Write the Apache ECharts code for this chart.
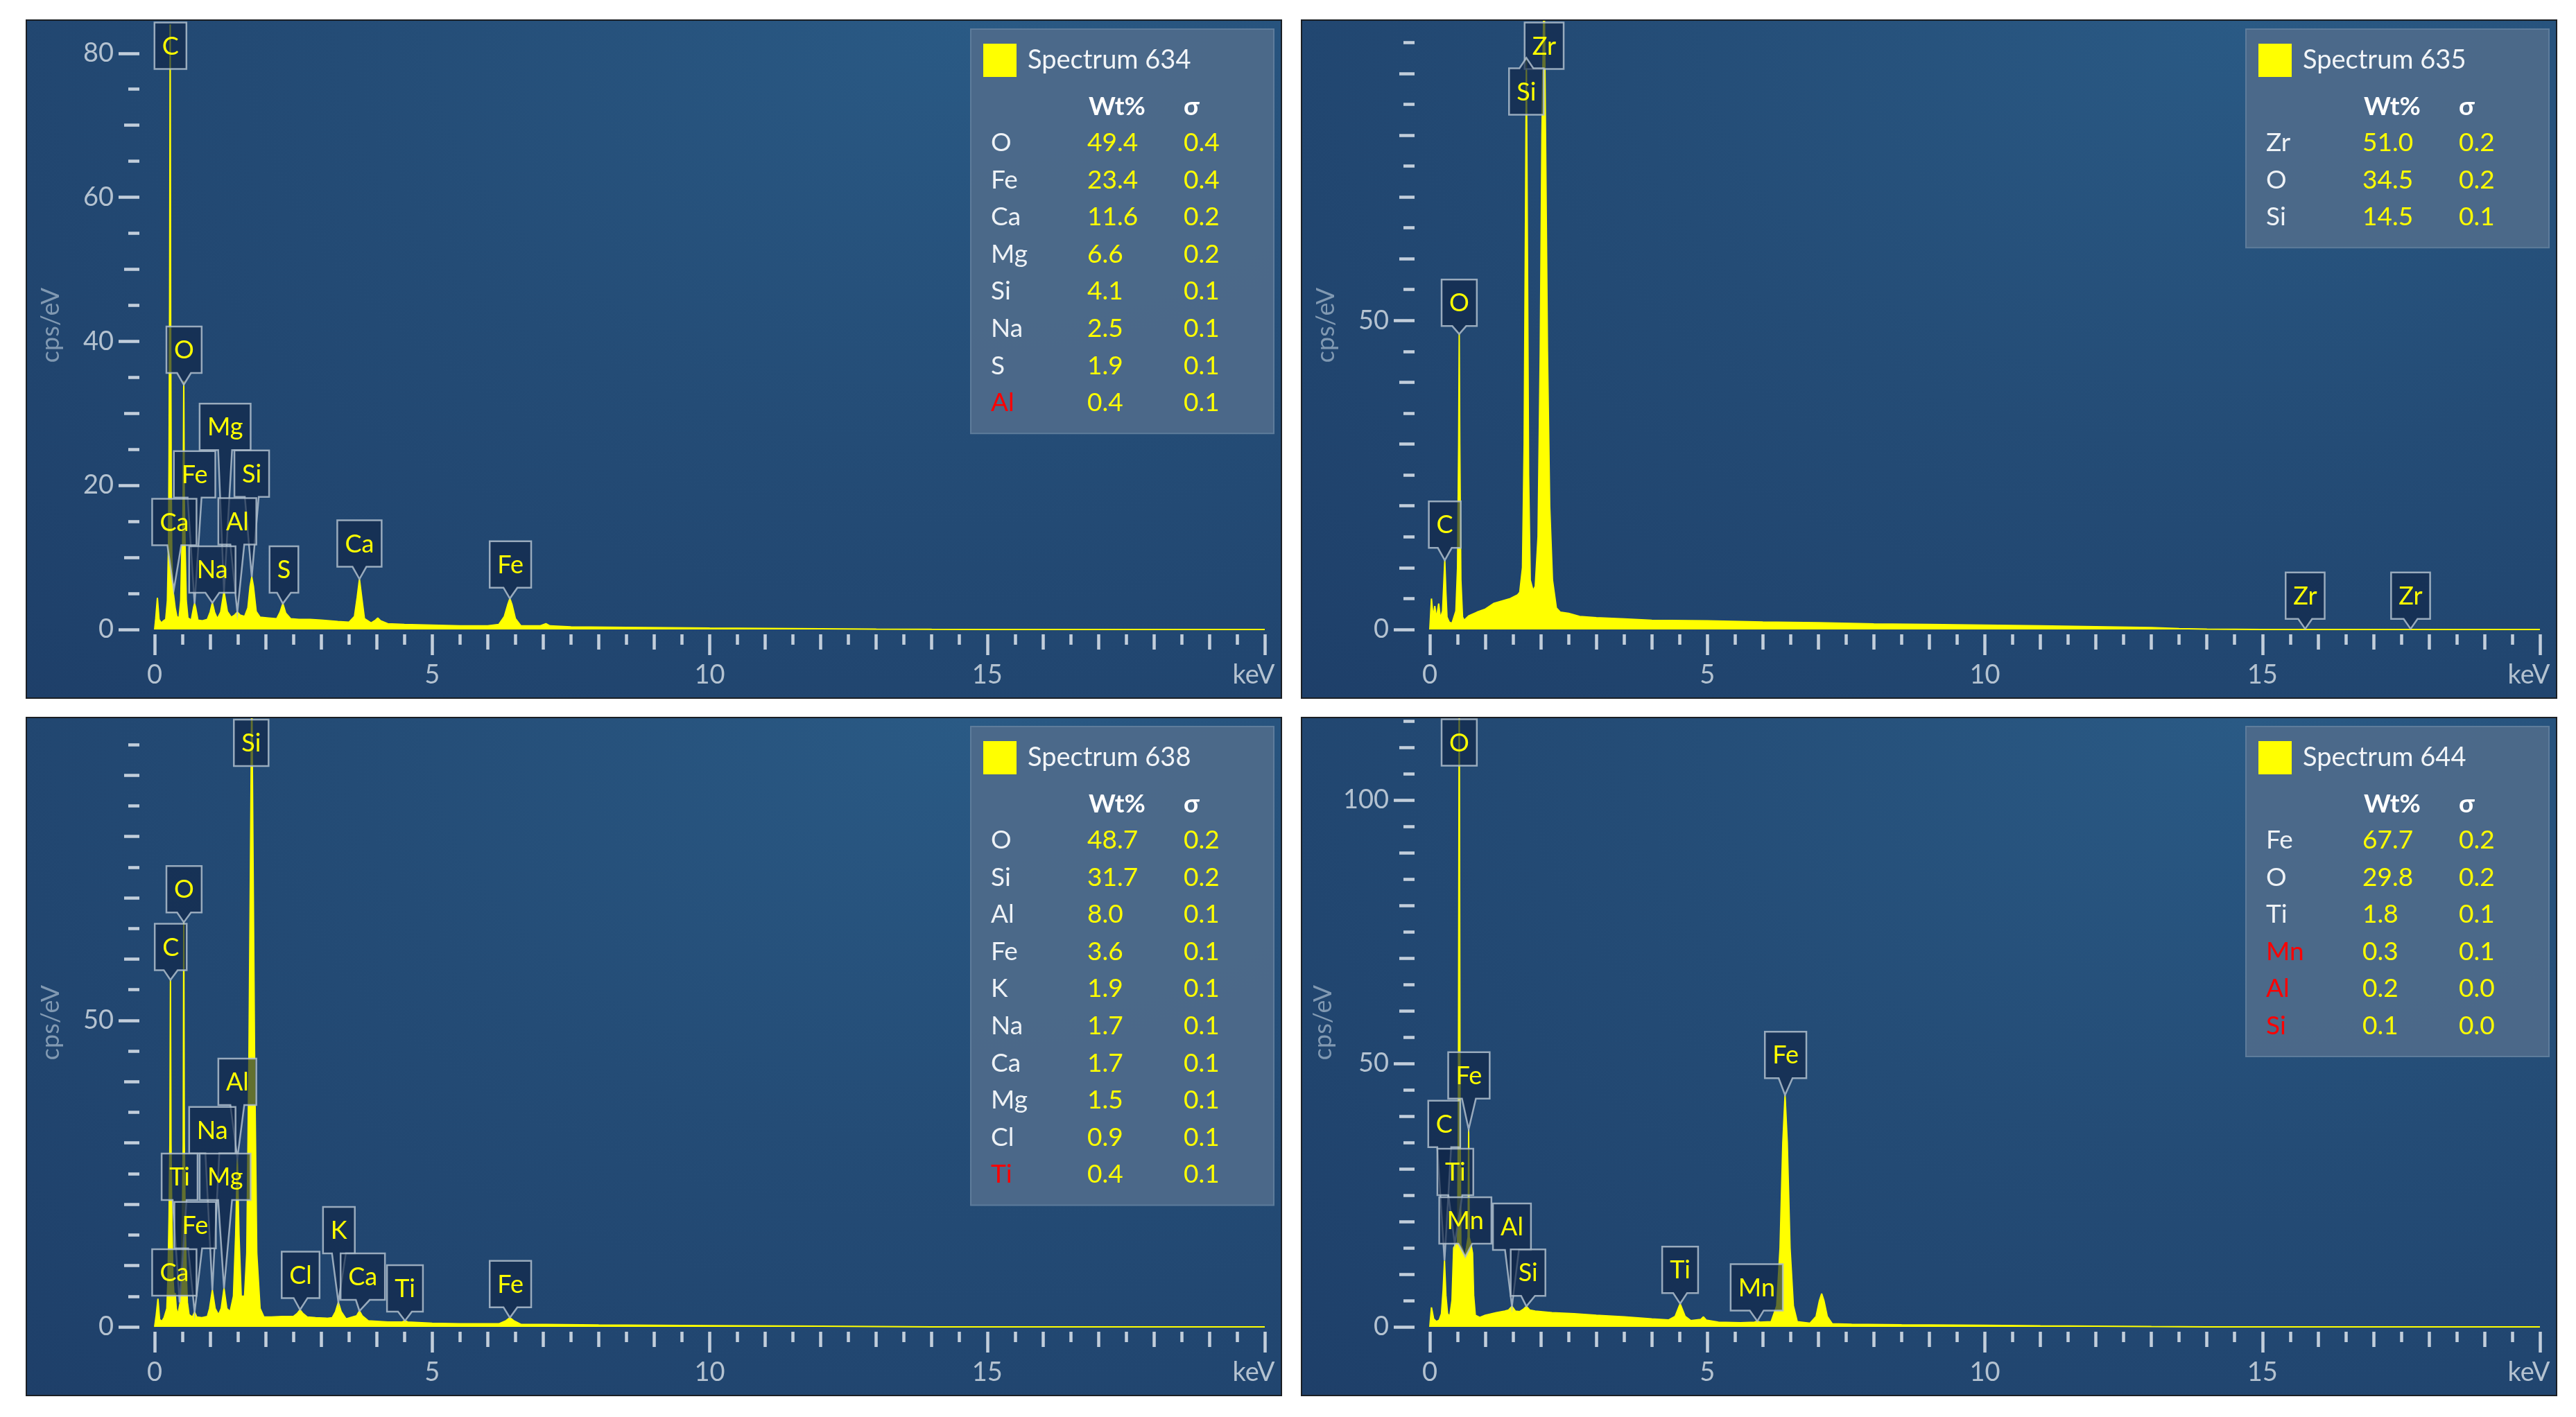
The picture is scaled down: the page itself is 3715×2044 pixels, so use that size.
<!DOCTYPE html>
<html>
<head>
<meta charset="utf-8">
<script src="https://cdn.jsdelivr.net/npm/echarts@6/dist/echarts.min.js"></script>
<style>
  html, body { margin: 0; padding: 0; background: #fff; }
  body { width: 3715px; height: 2044px; position: relative; overflow: hidden; }
  .panel {
    position: absolute; width: 1812px; height: 980px; box-sizing: border-box;
    border: 2px solid #1b1f24;
    background: radial-gradient(ellipse 110% 140% at 75% 0%, #2a5a85 0%, #244c76 45%, #1e3f69 100%);
  }
</style>
</head>
<body>
<div id="p634" class="panel" style="left:37px;top:28px;"></div>
<div id="p635" class="panel" style="left:1876px;top:28px;"></div>
<div id="p638" class="panel" style="left:37px;top:1034px;"></div>
<div id="p644" class="panel" style="left:1876px;top:1034px;"></div>
<script>
const FONT = 'Lato, "Noto Sans", sans-serif';
const LBL_FONT = '36px Lato, "Noto Sans", sans-serif';
const TICK = '#c2cedb';
const LABEL = '#b4c2d0';
const YELLOW = '#ffff00';

// x axis ticks (keV)
const xTicksMajor = [0, 5, 10, 15, 20];
const xTicksMid = [1, 2, 3, 4, 6, 7, 8, 9, 11, 12, 13, 14, 16, 17, 18, 19];
const xTicksMinor = [0.5, 1.5, 2.5, 3.5, 4.5, 5.5, 6.5, 7.5, 8.5, 9.5, 10.5, 11.5, 12.5, 13.5, 14.5, 15.5, 16.5, 17.5, 18.5, 19.5];

// ---- Spectrum 634 ----
const spec634 = [
  [0, 0], [0.02, 1.5], [0.05, 4.4], [0.08, 1.4], [0.12, 0.9], [0.16, 1.2], [0.2, 1.4],
  [0.23, 4], [0.25, 12], [0.26, 24], [0.27, 45], [0.28, 84], [0.29, 40], [0.30, 20], [0.31, 10], [0.33, 5.5], [0.35, 5.5], [0.37, 3], [0.40, 1.8],
  [0.44, 1.6], [0.47, 4], [0.49, 11], [0.505, 12], [0.515, 20], [0.525, 34.5], [0.535, 18], [0.55, 11.5], [0.57, 4], [0.60, 1.6],
  [0.66, 1.3], [0.70, 3], [0.72, 3.6], [0.74, 3], [0.78, 1.3], [0.86, 1.2], [0.95, 1.4],
  [1.0, 2.4], [1.04, 3.7], [1.08, 2.4], [1.13, 1.5],
  [1.19, 2.4], [1.25, 5.3], [1.31, 2.5], [1.38, 1.7],
  [1.44, 2.0], [1.49, 2.4], [1.54, 2.0], [1.62, 1.8],
  [1.68, 3], [1.72, 6], [1.75, 7.3], [1.78, 6], [1.83, 2.5], [1.9, 1.7],
  [2.05, 1.6], [2.2, 1.5], [2.26, 2.4], [2.31, 3.6], [2.36, 2.3], [2.45, 1.5],
  [2.6, 1.4], [2.8, 1.4], [3.0, 1.3], [3.3, 1.1], [3.5, 1.0],
  [3.6, 1.8], [3.65, 4.5], [3.69, 7.0], [3.73, 4.5], [3.78, 1.5], [3.9, 0.9],
  [3.98, 1.3], [4.02, 1.6], [4.07, 1.2], [4.2, 0.8], [4.5, 0.7], [5.0, 0.6], [5.5, 0.5], [6.0, 0.5], [6.2, 0.7],
  [6.3, 1.8], [6.36, 3.4], [6.40, 4.3], [6.44, 3.4], [6.5, 1.5], [6.6, 0.5],
  [6.95, 0.5], [7.05, 0.8], [7.12, 0.5], [7.5, 0.35], [8.5, 0.3], [10, 0.2], [11, 0.15], [12, 0.1], [13, 0.05], [14, 0.02], [15, 0], [20, 0]
];
const lbl634Names = ['C', 'O', 'Mg', 'Fe', 'Si', 'Ca', 'Al', 'Na', 'S', 'Ca', 'Fe'];
const lbl634Tip = [[0.28, 80], [0.525, 34], [1.25, 5.3], [0.72, 3.6], [1.75, 7.3], [0.345, 5.5], [1.49, 2.4], [1.04, 3.7], [2.31, 3.6], [3.69, 7.0], [6.40, 4.3]];
const lbl634Box = [[0.285, 77.8], [0.53, 35.6], [1.27, 24.9], [0.72, 18.3], [1.75, 18.4], [0.355, 11.7], [1.49, 11.8], [1.04, 5.1], [2.33, 5.1], [3.69, 8.7], [6.41, 5.8]];
const el634 = ['O', 'Fe', 'Ca', 'Mg', 'Si', 'Na', 'S', 'Al'];
const wt634 = [49.4, 23.4, 11.6, 6.6, 4.1, 2.5, 1.9, 0.4];
const sig634 = [0.4, 0.4, 0.2, 0.2, 0.1, 0.1, 0.1, 0.1];
const red634 = ['Al'];
const yLong634 = [0, 20, 40, 60, 80];
const yMid634 = [10, 30, 50, 70];
const yShort634 = [5, 15, 25, 35, 45, 55, 65, 75];

// ---- Spectrum 635 ----
const spec635 = [
  [0, 0], [0.03, 5], [0.06, 2], [0.09, 3.8], [0.12, 1.8], [0.16, 4.2], [0.19, 1.8],
  [0.23, 3], [0.25, 7], [0.27, 11.2], [0.29, 6], [0.31, 2], [0.35, 1.2], [0.40, 1.0],
  [0.47, 3], [0.50, 10], [0.52, 30], [0.53, 47.8], [0.54, 30], [0.56, 8], [0.59, 2], [0.62, 1.5],
  [0.7, 2.2], [0.85, 2.8], [1.0, 3.3], [1.15, 4.2], [1.3, 4.6], [1.45, 5.0], [1.58, 5.6],
  [1.62, 6.0], [1.67, 10], [1.70, 30], [1.72, 60], [1.74, 92.5], [1.76, 60], [1.78, 25], [1.81, 8], [1.86, 6.3],
  [1.90, 7], [1.95, 15], [1.99, 45], [2.02, 80], [2.06, 105], [2.09, 75], [2.12, 45], [2.16, 20], [2.21, 8], [2.28, 3.5], [2.35, 2.8],
  [2.5, 2.6], [2.7, 2.1], [3.0, 1.9], [3.5, 1.7], [4.0, 1.5], [5.0, 1.4], [6.0, 1.2], [7.0, 1.1], [8.0, 0.9], [9.0, 0.8],
  [10, 0.7], [11, 0.6], [12, 0.45], [13, 0.3], [13.5, 0.15], [14, 0.05], [15, 0], [20, 0]
];
const lbl635Names = ['Zr', 'Si', 'O', 'C', 'Zr', 'Zr'];
const lbl635Tip = [[2.06, 95], [1.74, 92.5], [0.53, 47.8], [0.27, 11.2], [15.77, 0.1], [17.67, 0.1]];
const lbl635Box = [[2.06, 90.7], [1.74, 83.3], [0.53, 49.1], [0.27, 13.2], [15.77, 1.7], [17.67, 1.7]];
const el635 = ['Zr', 'O', 'Si'];
const wt635 = [51.0, 34.5, 14.5];
const sig635 = [0.2, 0.2, 0.1];
const red635 = [];
const yLong635 = [0, 50];
const yMid635 = [10, 20, 30, 40, 60, 70, 80, 90];
const yShort635 = [5, 15, 25, 35, 45, 55, 65, 75, 85, 95];

// ---- Spectrum 638 ----
const spec638 = [
  [0, 0], [0.03, 2], [0.06, 4.6], [0.09, 1.2], [0.13, 0.9], [0.17, 1.5],
  [0.22, 3], [0.24, 8], [0.26, 18], [0.275, 30], [0.285, 56.6], [0.295, 30], [0.31, 18], [0.33, 8], [0.35, 5.2], [0.37, 5.5], [0.39, 3], [0.42, 2],
  [0.46, 4], [0.48, 10], [0.50, 18], [0.515, 30], [0.525, 66], [0.535, 30], [0.55, 18], [0.57, 9], [0.59, 4], [0.62, 2],
  [0.68, 1.6], [0.72, 2.4], [0.76, 1.6], [0.85, 1.5], [0.95, 1.7],
  [0.99, 3], [1.04, 6], [1.09, 3], [1.15, 2],
  [1.2, 3], [1.25, 6.3], [1.30, 3.0], [1.36, 2.5],
  [1.42, 5], [1.46, 15], [1.49, 27.5], [1.52, 15], [1.56, 5], [1.62, 5],
  [1.66, 12], [1.70, 45], [1.73, 80], [1.75, 105], [1.77, 80], [1.80, 45], [1.84, 12], [1.9, 3], [1.97, 1.6],
  [2.1, 1.6], [2.3, 1.7], [2.5, 1.7], [2.57, 2.2], [2.62, 2.8], [2.67, 2.2], [2.75, 1.6],
  [2.9, 1.5], [3.1, 1.4], [3.2, 1.5], [3.26, 2.5], [3.31, 4.0], [3.36, 2.5], [3.45, 1.3],
  [3.64, 1.8], [3.69, 2.6], [3.74, 1.8], [3.85, 1.0], [4.2, 0.8],
  [4.46, 0.8], [4.51, 1.0], [4.56, 0.8], [5.0, 0.6], [5.5, 0.5], [6.2, 0.5],
  [6.33, 1.0], [6.4, 1.5], [6.47, 1.0], [6.6, 0.4], [7.05, 0.4], [8, 0.3], [10, 0.2], [12, 0.1], [13, 0.05], [14, 0], [20, 0]
];
const lbl638Names = ['Si', 'O', 'C', 'Al', 'Na', 'Ti', 'Mg', 'Fe', 'Ca', 'Cl', 'K', 'Ca', 'Ti', 'Fe'];
const lbl638Tip = [[1.75, 95], [0.525, 66], [0.285, 56.6], [1.49, 27.5], [1.04, 6], [0.45, 4], [1.25, 6.3], [0.72, 2.4], [0.345, 5.2], [2.62, 2.8], [3.31, 4.0], [3.69, 2.6], [4.51, 1.0], [6.40, 1.5]];
const lbl638Box = [[1.74, 91.5], [0.53, 67.6], [0.29, 58.2], [1.49, 36.2], [1.04, 28.3], [0.45, 20.7], [1.27, 20.7], [0.73, 12.8], [0.355, 5.1], [2.63, 4.7], [3.32, 12.0], [3.75, 4.4], [4.51, 2.5], [6.41, 3.2]];
const el638 = ['O', 'Si', 'Al', 'Fe', 'K', 'Na', 'Ca', 'Mg', 'Cl', 'Ti'];
const wt638 = [48.7, 31.7, 8.0, 3.6, 1.9, 1.7, 1.7, 1.5, 0.9, 0.4];
const sig638 = [0.2, 0.2, 0.1, 0.1, 0.1, 0.1, 0.1, 0.1, 0.1, 0.1];
const red638 = ['Ti'];
const yLong638 = [0, 50];
const yMid638 = [10, 20, 30, 40, 60, 70, 80, 90];
const yShort638 = [5, 15, 25, 35, 45, 55, 65, 75, 85, 95];

// ---- Spectrum 644 ----
const spec644 = [
  [0, 0], [0.03, 3.7], [0.07, 1.5], [0.12, 1.0], [0.17, 1.3],
  [0.21, 2.5], [0.24, 7], [0.265, 12.6], [0.29, 6], [0.32, 2.5], [0.36, 2.0],
  [0.40, 5], [0.43, 15], [0.47, 15.8], [0.50, 16], [0.515, 40], [0.53, 125], [0.545, 40], [0.56, 15.5], [0.6, 14.5], [0.63, 13.3],
  [0.66, 15], [0.69, 17], [0.70, 37.5], [0.71, 17], [0.74, 15.8], [0.77, 14], [0.79, 6], [0.82, 2.2],
  [0.9, 1.8], [1.0, 2.2], [1.2, 2.7], [1.35, 3.0], [1.42, 3.2], [1.48, 3.9], [1.54, 3.0], [1.62, 2.9],
  [1.68, 3.3], [1.74, 3.9], [1.80, 3.2], [1.9, 3.0], [2.2, 2.7], [2.6, 2.5], [3.0, 2.2], [3.5, 1.9], [4.0, 1.5], [4.3, 1.3],
  [4.42, 2], [4.51, 4.4], [4.60, 2], [4.7, 1.2], [4.88, 1.4], [4.93, 1.9], [4.98, 1.3], [5.2, 0.9], [5.6, 0.8],
  [5.85, 0.9], [5.9, 1.1], [5.95, 0.9], [6.15, 1.0],
  [6.25, 4], [6.31, 15], [6.36, 35], [6.40, 44], [6.44, 35], [6.49, 15], [6.55, 4], [6.62, 1.0], [6.85, 0.7],
  [6.96, 2], [7.02, 5], [7.06, 6.3], [7.10, 5], [7.16, 2], [7.25, 0.6], [7.6, 0.5], [8.5, 0.4], [10, 0.3], [11, 0.2], [12, 0.12], [13, 0.05], [14, 0], [20, 0]
];
const lbl644Names = ['O', 'Fe', 'C', 'Ti', 'Mn', 'Al', 'Si', 'Ti', 'Mn', 'Fe'];
const lbl644Tip = [[0.525, 112], [0.70, 37.5], [0.265, 12.6], [0.45, 15.8], [0.64, 13.3], [1.48, 3.9], [1.74, 3.9], [4.51, 4.4], [5.9, 1.1], [6.40, 44]];
const lbl644Box = [[0.53, 106.5], [0.705, 43.3], [0.26, 34.1], [0.46, 25], [0.64, 15.8], [1.48, 14.6], [1.77, 5.9], [4.51, 6.4], [5.89, 3.1], [6.41, 47.2]];
const el644 = ['Fe', 'O', 'Ti', 'Mn', 'Al', 'Si'];
const wt644 = [67.7, 29.8, 1.8, 0.3, 0.2, 0.1];
const sig644 = [0.2, 0.2, 0.1, 0.1, 0.0, 0.0];
const red644 = ['Mn', 'Al', 'Si'];
const yLong644 = [0, 50, 100];
const yMid644 = [10, 20, 30, 40, 60, 70, 80, 90, 110];
const yShort644 = [5, 15, 25, 35, 45, 55, 65, 75, 85, 95, 105, 115];

const measureCtx = document.createElement('canvas').getContext('2d');
function textW(s, font) {
  measureCtx.font = font;
  return measureCtx.measureText(s).width;
}

function tickAxis(base, values, len, withLabel, extra) {
  return Object.assign({}, base, {
    axisTick: { show: true, customValues: values, length: len, lineStyle: { color: TICK, width: 4.5 } },
    axisLabel: withLabel ? extra : { show: false }
  });
}

function tableGraphic(el, wt, sig, red) {
  const h = 208 + (el.length - 1) * 53.6;
  const rowFont = '37px ' + FONT;
  const headFont = 'bold 37px ' + FONT;
  const children = [
    { type: 'rect', shape: { x: 0, y: 0, width: 437, height: h }, style: { fill: 'rgba(78,106,138,0.94)', stroke: '#5e7c9b', lineWidth: 2 } },
    { type: 'text', x: 170, y: 112, style: { text: 'Wt%', fill: '#ffffff', font: headFont, verticalAlign: 'middle' } },
    { type: 'text', x: 307, y: 112, style: { text: 'σ', fill: '#ffffff', font: headFont, verticalAlign: 'middle' } }
  ];
  el.forEach((name, k) => {
    const y = 164 + k * 53.6;
    children.push({ type: 'text', x: 29, y: y, style: { text: name, fill: red.includes(name) ? '#ff0000' : '#eef2f6', font: rowFont, verticalAlign: 'middle' } });
    children.push({ type: 'text', x: 168, y: y, style: { text: wt[k].toFixed(1), fill: YELLOW, font: rowFont, verticalAlign: 'middle' } });
    children.push({ type: 'text', x: 307, y: y, style: { text: sig[k].toFixed(1), fill: YELLOW, font: rowFont, verticalAlign: 'middle' } });
  });
  return { type: 'group', x: 1361, y: 12, z: 5, children: children };
}

function buildPanel(domId, cfg) {
  const chart = echarts.init(document.getElementById(domId));
  const xBase = { type: 'value', min: 0, max: 20, position: 'bottom', offset: 7, splitLine: { show: false }, axisLine: { show: false, onZero: false } };
  const yBase = { type: 'value', min: 0, max: cfg.yMax, position: 'left', offset: 22, splitLine: { show: false }, axisLine: { show: false, onZero: false } };
  const labelData = cfg.tip.map((t, i) => [t[0], t[1], cfg.box[i][0], cfg.box[i][1]]);

  chart.setOption({
    animation: false,
    grid: { left: 184, right: 23, top: 0, bottom: 98 },
    legend: {
      data: [cfg.name], left: 1379, top: 33, padding: 0, itemWidth: 48, itemHeight: 48, icon: 'rect',
      selectedMode: false, z: 10,
      textStyle: { color: '#f2f5f8', fontSize: 38, fontFamily: FONT, padding: [0, 0, 0, 11] }
    },
    graphic: [tableGraphic(cfg.el, cfg.wt, cfg.sig, cfg.red)],
    xAxis: [
      tickAxis(xBase, xTicksMajor, 30, true, {
        show: true, customValues: xTicksMajor, margin: 40, color: LABEL, fontSize: 38, fontFamily: FONT,
        formatter: v => (v === 20 ? '{k|keV}' : String(v)),
        rich: { k: { color: LABEL, fontSize: 38, fontFamily: FONT, padding: [0, 32, 0, 0] } }
      }),
      tickAxis(xBase, xTicksMid, 22, false),
      tickAxis(xBase, xTicksMinor, 15, false)
    ],
    yAxis: [
      Object.assign(tickAxis(yBase, cfg.yLong, 30, true, {
        show: true, customValues: cfg.yLong, margin: 37, color: LABEL, fontSize: 38, fontFamily: FONT
      }), {
        name: 'cps/eV', nameLocation: 'middle', nameGap: 110,
        nameTextStyle: { color: '#8199b2', fontSize: 36, fontFamily: FONT }
      }),
      tickAxis(yBase, cfg.yMid, 22, false),
      tickAxis(yBase, cfg.yShort, 16, false)
    ],
    series: [
      {
        name: cfg.name, type: 'line', data: cfg.spec, symbol: 'none', showSymbol: false, silent: true,
        clip: true, z: 2,
        lineStyle: { color: YELLOW, width: 2 },
        itemStyle: { color: YELLOW },
        areaStyle: { color: YELLOW, opacity: 1 }
      },
      {
        type: 'custom', data: labelData, z: 4, silent: true,
        renderItem: function (params, api) {
          const name = cfg.names[params.dataIndex];
          const tip = api.coord([api.value(0), api.value(1)]);
          const anc = api.coord([api.value(2), api.value(3)]);
          const w = textW(name, LBL_FONT) + 22, h = 67, vw = 10;
          const cx = anc[0], b = anc[1], t = b - h, l = cx - w / 2, r = cx + w / 2;
          let pts;
          if (tip[1] > b + 2) pts = [[l, t], [r, t], [r, b], [cx + vw, b], tip, [cx - vw, b], [l, b]];
          else if (tip[1] < t - 2) pts = [[l, t], [cx - vw, t], tip, [cx + vw, t], [r, t], [r, b], [l, b]];
          else pts = [[l, t], [r, t], [r, b], [l, b]];
          return {
            type: 'group',
            children: [
              { type: 'polygon', shape: { points: pts }, style: { fill: 'rgba(16,38,72,0.66)', stroke: 'rgba(175,190,205,0.85)', lineWidth: 2.5 } },
              { type: 'text', x: cx, y: (t + b) / 2 + 1, style: { text: name, fill: YELLOW, font: LBL_FONT, align: 'center', verticalAlign: 'middle' } }
            ]
          };
        }
      }
    ]
  });
  return chart;
}

buildPanel('p634', { name: 'Spectrum 634', spec: spec634, yMax: 84.5, yLong: yLong634, yMid: yMid634, yShort: yShort634,
  names: lbl634Names, tip: lbl634Tip, box: lbl634Box, el: el634, wt: wt634, sig: sig634, red: red634 });
buildPanel('p635', { name: 'Spectrum 635', spec: spec635, yMax: 98.5, yLong: yLong635, yMid: yMid635, yShort: yShort635,
  names: lbl635Names, tip: lbl635Tip, box: lbl635Box, el: el635, wt: wt635, sig: sig635, red: red635 });
buildPanel('p638', { name: 'Spectrum 638', spec: spec638, yMax: 99.3, yLong: yLong638, yMid: yMid638, yShort: yShort638,
  names: lbl638Names, tip: lbl638Tip, box: lbl638Box, el: el638, wt: wt638, sig: sig638, red: red638 });
buildPanel('p644', { name: 'Spectrum 644', spec: spec644, yMax: 115.5, yLong: yLong644, yMid: yMid644, yShort: yShort644,
  names: lbl644Names, tip: lbl644Tip, box: lbl644Box, el: el644, wt: wt644, sig: sig644, red: red644 });
</script>
</body>
</html>
